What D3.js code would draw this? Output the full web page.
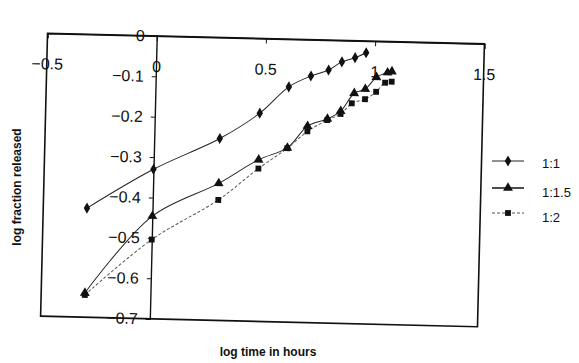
<!DOCTYPE html>
<html><head><meta charset="utf-8">
<script src="https://cdn.jsdelivr.net/npm/d3@7"></script>
<style>
body{margin:0;background:#fff;}
svg{display:block;font-family:"Liberation Sans",Arial,sans-serif;}
</style></head>
<body>
<svg id="c" width="579" height="363"></svg>
<script>
const xTicks = [-0.5, 0, 0.5, 1, 1.5];
const yTicks = [0, -0.1, -0.2, -0.3, -0.4, -0.5, -0.6, -0.7];

const time11 = [-0.3, 0, 0.3, 0.48, 0.61, 0.71, 0.79, 0.85, 0.91, 0.96];
const frac11 = [-0.43, -0.33, -0.25, -0.185, -0.118, -0.09, -0.074, -0.053, -0.042, -0.029];

const time115 = [-0.3, 0, 0.3, 0.48, 0.61, 0.70, 0.79, 0.85, 0.91, 0.96, 1.01, 1.06, 1.08];
const frac115 = [-0.64, -0.446, -0.361, -0.30, -0.269, -0.214, -0.195, -0.175, -0.13, -0.119, -0.089, -0.077, -0.074];

const time12 = [-0.3, 0, 0.3, 0.48, 0.61, 0.70, 0.79, 0.85, 0.90, 0.96, 1.01, 1.05, 1.08];
const frac12 = [-0.645, -0.504, -0.402, -0.322, -0.27, -0.227, -0.198, -0.182, -0.155, -0.144, -0.125, -0.102, -0.099];

const seriesNames = ["1:1", "1:1.5", "1:2"];

const series = [
  {name: seriesNames[0], xs: time11, ys: frac11, sym: d3.symbolDiamond, size: 36, stroke: "#222", dash: null, w: 1},
  {name: seriesNames[1], xs: time115, ys: frac115, sym: d3.symbolTriangle, size: 42, stroke: "#222", dash: null, w: 1},
  {name: seriesNames[2], xs: time12, ys: frac12, sym: d3.symbolSquare, size: 34, stroke: "#555", dash: "3,2", w: 1}
];

const svg = d3.select("#c");
const x = d3.scaleLinear().domain([-0.5, 1.5]).range([44, 481]);
const y = d3.scaleLinear().domain([-0.7, 0]).range([321.5, 38.5]);

const g = svg.append("g").attr("transform", "rotate(1.4,262.5,180)");

// plot frame
g.append("rect").attr("x", x(-0.5)).attr("y", y(0))
  .attr("width", x(1.5) - x(-0.5)).attr("height", y(-0.7) - y(0))
  .attr("fill", "none").attr("stroke", "#111").attr("stroke-width", 1.6);

// x axis along y=0
const xAxis = d3.axisBottom(x).tickValues(xTicks).tickSize(5).tickFormat(d3.format("~g"));
const xa = g.append("g").attr("transform", `translate(0,${y(0)})`).call(xAxis);
xa.select(".domain").attr("stroke", "#111").attr("stroke-width", 1.4);
xa.selectAll(".tick line").attr("stroke", "#111");
xa.selectAll(".tick text").attr("y", 31).attr("dy", "0.32em")
  .attr("font-size", 16).attr("fill", "#111").attr("font-family", "Liberation Sans, Arial, sans-serif");

// y axis along x=0
const yAxis = d3.axisLeft(y).tickValues(yTicks).tickSize(4).tickFormat(d3.format("~g"));
const ya = g.append("g").attr("transform", `translate(${x(0)},0)`).call(yAxis);
ya.select(".domain").attr("stroke", "#111").attr("stroke-width", 1.4);
ya.selectAll(".tick line").attr("stroke", "#111");
ya.selectAll(".tick text").attr("x", -12)
  .attr("font-size", 16).attr("fill", "#111").attr("font-family", "Liberation Sans, Arial, sans-serif");

// lines
const line = d3.line().x(d => x(d[0])).y(d => y(d[1])).curve(d3.curveCatmullRom.alpha(0.5));
series.forEach(s => {
  const pts = s.xs.map((v, i) => [v, s.ys[i]]);
  g.append("path").datum(pts).attr("d", line)
    .attr("fill", "none").attr("stroke", s.stroke).attr("stroke-width", s.w)
    .attr("stroke-dasharray", s.dash);
});
series.forEach(s => {
  const pts = s.xs.map((v, i) => [v, s.ys[i]]);
  g.selectAll(null).data(pts).enter().append("path")
    .attr("transform", d => `translate(${x(d[0])},${y(d[1])})`)
    .attr("d", d3.symbol().type(s.sym).size(s.size))
    .attr("fill", "#111");
});

// axis titles
svg.append("text").attr("x", 268).attr("y", 356).attr("text-anchor", "middle")
  .attr("font-size", 12).attr("font-weight", "bold").attr("fill", "#111").text("log time in hours");
svg.append("text").attr("transform", "translate(21,187) rotate(-90)").attr("text-anchor", "middle")
  .attr("font-size", 12).attr("font-weight", "bold").attr("fill", "#111").text("log fraction released");

// legend
const legY = [161, 188, 213];
series.forEach((s, i) => {
  const lg = svg.append("g").attr("transform", `translate(0,${legY[i]})`);
  lg.append("line").attr("x1", 492).attr("x2", 524).attr("y1", 0).attr("y2", 0)
    .attr("stroke", s.stroke).attr("stroke-width", i === 1 ? 1.6 : 1).attr("stroke-dasharray", s.dash);
  lg.append("path").attr("transform", "translate(508,0)")
    .attr("d", d3.symbol().type(s.sym).size(s.size))
    .attr("fill", "#111");
  lg.append("text").attr("x", 542).attr("y", i === 0 ? 3 : 5).attr("dy", "0.32em")
    .attr("font-size", 13).attr("fill", "#111").text(s.name);
});
</script>
</body></html>
